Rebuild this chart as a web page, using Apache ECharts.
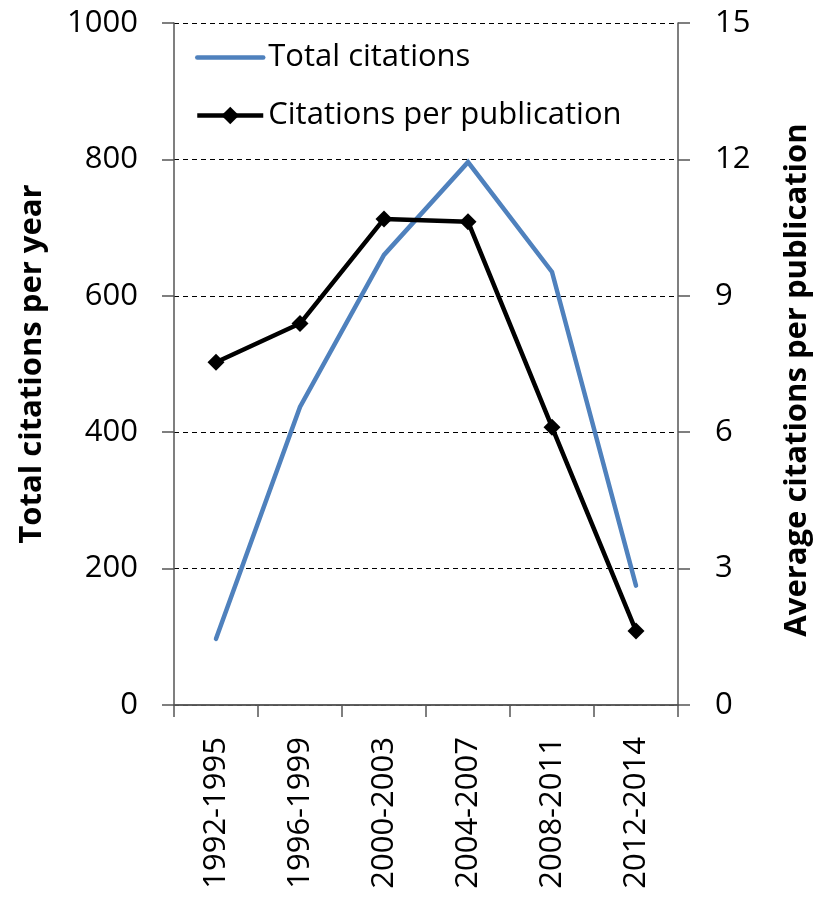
<!DOCTYPE html>
<html><head><meta charset="utf-8">
<script src="https://cdn.jsdelivr.net/npm/echarts@6/dist/echarts.min.js"></script>
<style>html,body{margin:0;padding:0;background:#fff}#c{width:816px;height:900px}</style>
</head><body><div id="c"></div>
<script>
const categories = ['1992-1995','1996-1999','2000-2003','2004-2007','2008-2011','2012-2014'];
const totalCitations = [97, 437, 660, 796, 635, 175];
const citationsPerPublication = [7.54, 8.39, 10.69, 10.63, 6.11, 1.63];
const leftTicks = [0, 200, 400, 600, 800, 1000];
const rightTicks = [0, 3, 6, 9, 12, 15];

const FONT = 'Open Sans';
const axisColor = '#555';
const chart = echarts.init(document.getElementById('c'), null, {renderer:'canvas'});
chart.setOption({
  animation: false,
  textStyle: {fontFamily: FONT},
  grid: {left: 174, right: 138, top: 23, bottom: 195, containLabel: false, outerBoundsMode: 'none'},
  legend: {
    orient: 'vertical', left: 190, top: 36, itemWidth: 66, itemHeight: 22, itemGap: 25,
    lineStyle: {width: 4.5},
    textStyle: {fontFamily: FONT, fontSize: 31, color: '#000', lineHeight: 33},
    data: [
      {name: 'Total citations', itemStyle: {opacity: 0}, lineStyle: {width: 4.5, color: '#4f81bd'}},
      {name: 'Citations per publication', lineStyle: {width: 4.5, color: '#000'}}
    ]
  },
  xAxis: [{
    type: 'category', data: categories, boundaryGap: true,
    axisLine: {lineStyle: {color: axisColor, width: 1.5}},
    axisTick: {show: true, length: 12, lineStyle: {color: axisColor, width: 1.5}, alignWithLabel: false},
    axisLabel: {rotate: 90, fontFamily: FONT, fontSize: 31, color: '#000', margin: 32, interval: 0},
    splitLine: {show: false}
  }, {
    type: 'category', data: categories, position: 'top',
    axisLine: {show: true, lineStyle: {color: axisColor, width: 1.5}},
    axisTick: {show: false}, axisLabel: {show: false}, splitLine: {show: false}
  }],
  yAxis: [{
    type: 'value', min: 0, max: 1000, interval: 200, position: 'left',
    name: 'Total citations per year', nameLocation: 'middle', nameRotate: 90, nameGap: 126,
    nameTextStyle: {fontFamily: FONT, fontSize: 31, fontWeight: 'bold', color: '#000'},
    axisLine: {show: true, lineStyle: {color: axisColor, width: 1.5}},
    axisTick: {show: true, length: 12, lineStyle: {color: axisColor, width: 1.5}},
    axisLabel: {fontFamily: FONT, fontSize: 31, color: '#000', margin: 36,
      formatter: v => leftTicks.includes(v) ? String(v) : ''},
    splitLine: {show: true, lineStyle: {color: '#000', type: [5, 4], width: 1}}
  }, {
    type: 'value', min: 0, max: 15, interval: 3, position: 'right',
    name: 'Average citations per publication', nameLocation: 'middle', nameRotate: 90, nameGap: 104,
    nameTextStyle: {fontFamily: FONT, fontSize: 31, fontWeight: 'bold', color: '#000', padding: [0, 32, 0, 0]},
    axisLine: {show: true, lineStyle: {color: axisColor, width: 1.5}},
    axisTick: {show: true, length: 12, lineStyle: {color: axisColor, width: 1.5}},
    axisLabel: {fontFamily: FONT, fontSize: 31, color: '#000', margin: 37,
      formatter: v => rightTicks.includes(v) ? String(v) : ''},
    splitLine: {show: false}
  }],
  series: [{
    name: 'Total citations', type: 'line', yAxisIndex: 0, data: totalCitations,
    symbol: 'none', showSymbol: false,
    lineStyle: {color: '#4f81bd', width: 4.5, cap: 'round', join: 'miter'},
    itemStyle: {color: '#4f81bd'}
  }, {
    name: 'Citations per publication', type: 'line', yAxisIndex: 1, data: citationsPerPublication,
    symbol: 'diamond', symbolSize: 17,
    lineStyle: {color: '#000', width: 4.5},
    itemStyle: {color: '#000'}
  }]
});
</script></body></html>
